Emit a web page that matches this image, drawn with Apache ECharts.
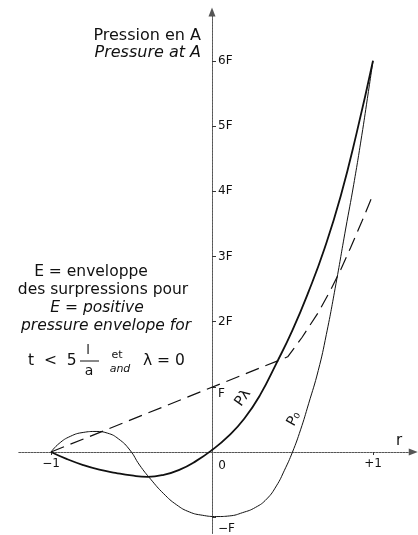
<!DOCTYPE html>
<html><head><meta charset="utf-8">
<script src="https://cdn.jsdelivr.net/npm/echarts@6/dist/echarts.min.js"></script>
<style>html,body{margin:0;padding:0;background:#fff}#c{width:418px;height:535px}</style>
</head><body><div id="c"></div>
<script>
// Courbe P0 (r, pression en F)
const p0R = [-1,-0.95,-0.88,-0.80,-0.72,-0.65,-0.58,-0.51,-0.45,-0.38,-0.30,-0.22,-0.14,-0.06,0.03,0.11,0.19,0.27,0.34,0.40,0.45,0.50,0.55,0.60,0.66,0.71,0.77,0.83,0.88,0.93,0.965,1];
const p0P = [0,0.13,0.24,0.30,0.315,0.29,0.20,0.03,-0.20,-0.42,-0.64,-0.81,-0.92,-0.97,-0.99,-0.98,-0.93,-0.85,-0.72,-0.52,-0.28,0,0.34,0.74,1.25,1.80,2.58,3.42,4.10,4.85,5.42,6];
// Courbe P-lambda
const plR = [-1,-0.9,-0.8,-0.7,-0.6,-0.5,-0.4,-0.3,-0.2,-0.1,0,0.1,0.2,0.3,0.4,0.5,0.6,0.7,0.8,0.9,1];
const plP = [0,-0.11,-0.20,-0.27,-0.32,-0.36,-0.38,-0.35,-0.27,-0.14,0.03,0.24,0.51,0.88,1.36,1.87,2.46,3.13,3.93,4.91,6];
// Enveloppe E (tirets)
const envR = [-1,0.47,0.56,0.66,0.74,0.80,0.86,0.93,1];
const envP = [0,1.46,1.76,2.14,2.50,2.80,3.13,3.53,3.95];
// Graduations
const yTickValues = [-1,1,2,3,4,5,6];
const yTickLabels = ['\u2212F','F','2F','3F','4F','5F','6F'];
const xTickValues = [-1,1];
const xTickLabels = ['\u22121','+1'];

function pairs(a,b){return a.map((x,i)=>[x,b[i]]);}
const FONT = 'DejaVu Sans';
const INK = '#111';
const chart = echarts.init(document.getElementById('c'), null, {renderer:'canvas'});

// grid / axis ranges
const X_MIN = -1.2, X_MAX = 1.25, Y_MIN = -1.25, Y_MAX = 6.75;
const G_LEFT = 18.8, G_RIGHT = 4.75, G_TOP = 11.9, G_BOTTOM = 1.5;
const gW = 418 - G_LEFT - G_RIGHT, gH = 535 - G_TOP - G_BOTTOM;
const yAxisOffset = -gW * (0 - X_MIN) / (X_MAX - X_MIN);
const xAxisOffset = -gH * (0 - Y_MIN) / (Y_MAX - Y_MIN);

function txt(text, x, y, opt){
  opt = opt || {};
  return {type:'text', x:x, y:y, rotation:opt.rotation||0, silent:true,
    style:{text:text, fill:INK, fontFamily:FONT, fontSize:opt.size||15.5,
      fontStyle:opt.italic?'italic':'normal', align:opt.align||'center', verticalAlign:'middle'}};
}

const option = {
  animation:false,
  backgroundColor:'#fff',
  grid:{left:G_LEFT,right:G_RIGHT,top:G_TOP,bottom:G_BOTTOM,containLabel:false,outerBoundsMode:'none'},
  xAxis:{type:'value',min:X_MIN,max:X_MAX,position:'bottom',offset:xAxisOffset,
    axisLine:{onZero:false,symbol:['none','triangle'],symbolSize:[7,9],lineStyle:{color:'#555',width:1,type:[2,1]}},
    axisTick:{show:true,customValues:xTickValues,length:3,lineStyle:{color:'#333'}},
    axisLabel:{show:true,customValues:xTickValues,formatter:function(v){var i=xTickValues.indexOf(v);return i<0?'':xTickLabels[i];},
      margin:6,fontFamily:FONT,fontSize:12,color:INK},
    splitLine:{show:false}},
  yAxis:{type:'value',min:Y_MIN,max:Y_MAX,position:'left',offset:yAxisOffset,
    axisLine:{onZero:false,symbol:['none','triangle'],symbolSize:[7,9],lineStyle:{color:'#555',width:1,type:[2,1]}},
    axisTick:{show:true,inside:true,customValues:yTickValues,length:4,lineStyle:{color:'#333'}},
    axisLabel:{show:true,inside:true,customValues:yTickValues,
      formatter:function(v){var i=yTickValues.indexOf(v);if(i<0)return '';
        if(v===1)return '{lo|'+yTickLabels[i]+'}';
        if(v===-1)return '{lo2|'+yTickLabels[i]+'}';
        return yTickLabels[i];},
      rich:{lo:{padding:[14,0,0,0],fontFamily:FONT,fontSize:12,color:INK},
            lo2:{padding:[24,0,0,0],fontFamily:FONT,fontSize:12,color:INK}},
      margin:6,fontFamily:FONT,fontSize:12,color:INK},
    splitLine:{show:false}},
  series:[
    {name:'P0',type:'line',data:pairs(p0R,p0P),smooth:0.5,showSymbol:false,
      lineStyle:{color:INK,width:1},z:3},
    {name:'Pλ',type:'line',data:pairs(plR,plP),smooth:0.5,showSymbol:false,
      lineStyle:{color:INK,width:1.8},z:4},
    {name:'E',type:'line',data:pairs(envR,envP),smooth:false,showSymbol:false,
      lineStyle:{color:INK,width:1.2,type:[14,7]},z:2}
  ],
  graphic:[
    txt('Pression en A',201,35.5,{align:'right',size:16}),
    txt('Pressure at A',201,53,{align:'right',size:16,italic:true}),
    txt('E = enveloppe',91,272),
    txt('des surpressions pour',103,290),
    txt('E = positive',97,308,{italic:true}),
    txt('pressure envelope for',106,326,{italic:true}),
    txt('t  <  5',28,361,{align:'left',size:15.5}),
    txt('l',88,351,{size:13}),
    {type:'line',silent:true,shape:{x1:80,y1:361,x2:99,y2:361},style:{stroke:INK,lineWidth:1}},
    txt('a',89,371,{size:14}),
    txt('et',117,355,{size:11}),
    txt('and',120,369,{size:11,italic:true}),
    txt('\u03bb = 0',143,361,{align:'left',size:15.5}),
    txt('0',222,466,{size:12}),
    txt('r',399,441,{size:15}),
    txt('P\u03bb',243,398,{size:14,rotation:0.95}),
    txt('P\u2080',294,419,{size:14,rotation:1.05})
  ]
};
chart.setOption(option);
</script>
</body></html>
